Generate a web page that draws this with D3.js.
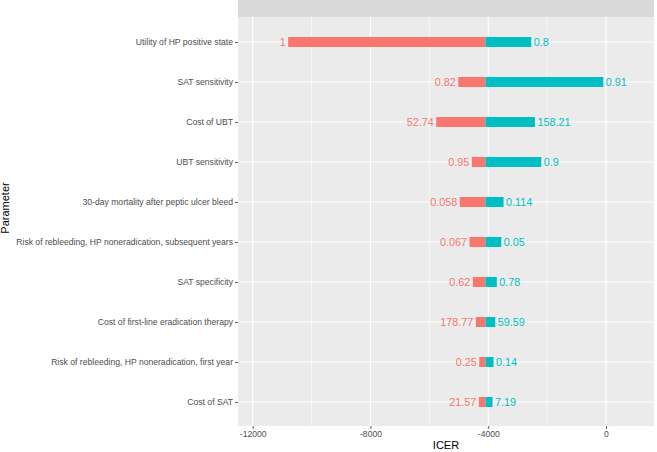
<!DOCTYPE html>
<html>
<head>
<meta charset="utf-8">
<title>Tornado</title>
<script src="https://cdn.jsdelivr.net/npm/d3@7"></script>
<style>
  body { margin: 0; background: #fff; }
  svg text { font-family: "Liberation Sans", Arial, Helvetica, sans-serif; }
</style>
</head>
<body>
<svg id="chart" width="657" height="452"></svg>
<script>
// parameters, top to bottom
var params = [
  "Utility of HP positive state",
  "SAT sensitivity",
  "Cost of UBT",
  "UBT sensitivity",
  "30-day mortality after peptic ulcer bleed",
  "Risk of rebleeding, HP noneradication, subsequent years",
  "SAT specificity",
  "Cost of first-line eradication therapy",
  "Risk of rebleeding, HP noneradication, first year",
  "Cost of SAT"
];
var baseIcer = -4090;
// ICER at the end of the red (left) and cyan (right) bars
var leftIcer = [-10796, -5019, -5767, -4557, -4965, -4635, -4523, -4421, -4306, -4319];
var rightIcer = [-2539, -92, -2414, -2199, -3480, -3558, -3708, -3762, -3820, -3854];
// parameter values printed beside the bars
var leftLabels = ["1", "0.82", "52.74", "0.95", "0.058", "0.067", "0.62", "178.77", "0.25", "21.57"];
var rightLabels = ["0.8", "0.91", "158.21", "0.9", "0.114", "0.05", "0.78", "59.59", "0.14", "7.19"];
var xTicks = [-12000, -8000, -4000, 0];
var xMinor = [-10000, -6000, -2000];

var svg = d3.select("#chart");
var panel = {left: 238, right: 654, top: 17, bottom: 426};

var x = d3.scaleLinear().domain([-12500, 1630]).range([panel.left, panel.right]);
var y = d3.scalePoint().domain(params).range([18, 426]).padding(0.6);

// strip on top
svg.append("rect")
  .attr("x", panel.left).attr("y", 0)
  .attr("width", panel.right - panel.left).attr("height", panel.top)
  .attr("fill", "#D9D9D9");

// panel background
svg.append("rect")
  .attr("x", panel.left).attr("y", panel.top)
  .attr("width", panel.right - panel.left).attr("height", panel.bottom - panel.top)
  .attr("fill", "#EBEBEB");

// grid
svg.selectAll(".minor").data(xMinor).enter().append("line")
  .attr("x1", function(d) { return x(d); }).attr("x2", function(d) { return x(d); })
  .attr("y1", panel.top).attr("y2", panel.bottom)
  .attr("stroke", "#fff").attr("stroke-width", 0.6);
svg.selectAll(".major").data(xTicks).enter().append("line")
  .attr("x1", function(d) { return x(d); }).attr("x2", function(d) { return x(d); })
  .attr("y1", panel.top).attr("y2", panel.bottom)
  .attr("stroke", "#fff").attr("stroke-width", 1.2);
svg.selectAll(".hgrid").data(params).enter().append("line")
  .attr("x1", panel.left).attr("x2", panel.right)
  .attr("y1", function(d) { return y(d); }).attr("y2", function(d) { return y(d); })
  .attr("stroke", "#fff").attr("stroke-width", 1.2);

var barH = 10;
var rows = params.map(function(p, i) {
  return {p: p, lo: leftIcer[i], hi: rightIcer[i], lol: leftLabels[i], hil: rightLabels[i]};
});

// red bars
svg.selectAll(".bar-left").data(rows).enter().append("rect")
  .attr("x", function(d) { return x(d.lo); })
  .attr("y", function(d) { return y(d.p) - barH / 2; })
  .attr("width", function(d) { return x(baseIcer) - x(d.lo); })
  .attr("height", barH)
  .attr("fill", "#F8766D");
// cyan bars
svg.selectAll(".bar-right").data(rows).enter().append("rect")
  .attr("x", x(baseIcer))
  .attr("y", function(d) { return y(d.p) - barH / 2; })
  .attr("width", function(d) { return x(d.hi) - x(baseIcer); })
  .attr("height", barH)
  .attr("fill", "#00BFC4");

// value labels
svg.selectAll(".lab-left").data(rows).enter().append("text")
  .attr("x", function(d) { return x(d.lo) - 2.5; })
  .attr("y", function(d) { return y(d.p); })
  .attr("dy", "0.36em")
  .attr("text-anchor", "end")
  .attr("font-size", "10.8px")
  .attr("fill", "#F8766D")
  .text(function(d) { return d.lol; });
svg.selectAll(".lab-right").data(rows).enter().append("text")
  .attr("x", function(d) { return x(d.hi) + 2.5; })
  .attr("y", function(d) { return y(d.p); })
  .attr("dy", "0.36em")
  .attr("font-size", "10.8px")
  .attr("fill", "#00BFC4")
  .text(function(d) { return d.hil; });

// axes
var xAxis = svg.append("g")
  .attr("transform", "translate(0," + panel.bottom + ")")
  .call(d3.axisBottom(x).tickValues(xTicks).tickFormat(function(d) { return String(d); })
    .tickSize(3).tickPadding(2));
var yAxis = svg.append("g")
  .attr("transform", "translate(" + panel.left + ",0)")
  .call(d3.axisLeft(y).tickSize(3).tickPadding(2));

[xAxis, yAxis].forEach(function(a) {
  a.select(".domain").remove();
  a.selectAll(".tick line").attr("stroke", "#333").attr("stroke-width", 0.8);
  a.selectAll(".tick text").attr("fill", "#4D4D4D").attr("font-size", "8.6px")
    .attr("font-family", "Liberation Sans, Arial, sans-serif");
});

// titles
svg.append("text")
  .attr("x", (panel.left + panel.right) / 2).attr("y", 449)
  .attr("text-anchor", "middle")
  .attr("font-size", "11px")
  .attr("fill", "#000")
  .text("ICER");
svg.append("text")
  .attr("transform", "translate(9,208) rotate(-90)")
  .attr("text-anchor", "middle")
  .attr("font-size", "11px")
  .attr("fill", "#000")
  .text("Parameter");
</script>
</body>
</html>
